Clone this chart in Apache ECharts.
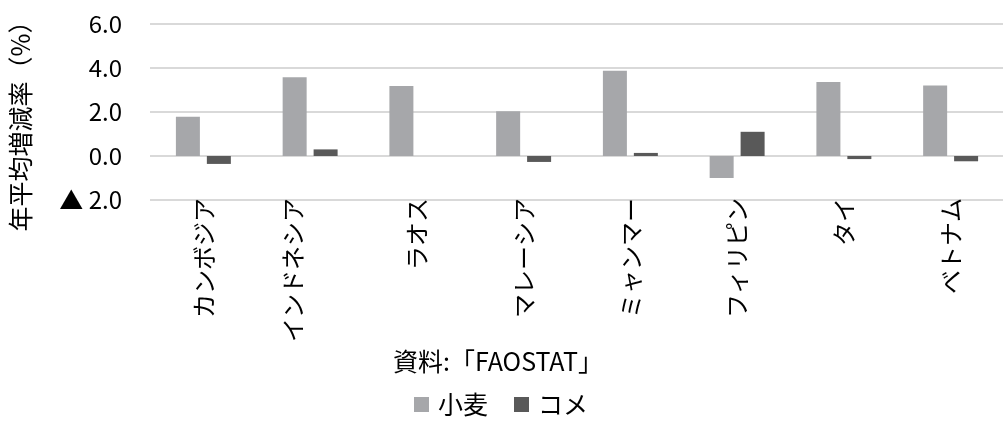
<!DOCTYPE html>
<html>
<head>
<meta charset="utf-8">
<script src="https://cdn.jsdelivr.net/npm/echarts@6/dist/echarts.min.js"></script>
<style>
  html, body { margin: 0; padding: 0; background: #fff; }
  #chart { width: 1003px; height: 422px; }
</style>
</head>
<body>
<div id="chart"></div>
<script>
const countries = ['カンボジア', 'インドネシア', 'ラオス', 'マレーシア', 'ミャンマー', 'フィリピン', 'タイ', 'ベトナム']
const wheat = [1.78, 3.58, 3.18, 2.03, 3.88, -1.0, 3.36, 3.21]
const rice = [-0.36, 0.3, 0, -0.27, 0.14, 1.1, -0.14, -0.24]
const yTicks = { '-2': '▲ 2.0', '0': '0.0', '2': '2.0', '4': '4.0', '6': '6.0' }

const font = '"Noto Sans CJK JP", "Noto Sans", sans-serif'

const chart = echarts.init(document.getElementById('chart'))
chart.setOption({
  animation: false,
  textStyle: { fontFamily: font },
  title: {
    text: '資料:「FAOSTAT」',
    left: 498,
    top: 349,
    textAlign: 'center',
    padding: 0,
    textStyle: { fontSize: 25, fontWeight: 'normal', color: '#000', fontFamily: font },
  },
  legend: {
    data: ['小麦', 'コメ'],
    left: 414,
    top: 392,
    padding: 0,
    itemWidth: 15,
    itemHeight: 15,
    itemGap: 26,
    icon: 'rect',
    textStyle: { fontSize: 25, color: '#000', fontFamily: font, padding: [0, 0, 0, 4] },
  },
  grid: {
    left: 150,
    top: 24,
    width: 854,
    height: 176,
    outerBoundsMode: 'none',
  },
  xAxis: {
    type: 'category',
    data: countries,
    axisLine: { show: false },
    axisTick: { show: false },
    axisLabel: {
      rotate: 90,
      margin: -2,
      fontSize: 24,
      lineHeight: 34,
      color: '#000',
      fontFamily: font,
      // インドネシア sits a bit left of its bars in the original
      formatter: v => v === 'インドネシア' ? v + '\n ' : v,
    },
  },
  yAxis: {
    type: 'value',
    min: -2,
    max: 6,
    interval: 2,
    name: '年平均増減率（%）',
    nameLocation: 'middle',
    nameRotate: 90,
    nameGap: 117,
    nameTextStyle: { fontSize: 25, color: '#000', fontFamily: font, padding: [0, 16, 0, 0] },
    axisLine: { show: false },
    axisTick: { show: false },
    axisLabel: {
      margin: 28,
      fontSize: 24,
      color: '#000',
      fontFamily: font,
      formatter: v => yTicks[String(v)],
    },
    splitLine: { lineStyle: { color: '#d9d9d9', width: 2 } },
  },
  series: [
    {
      name: '小麦',
      type: 'bar',
      data: wheat,
      barWidth: 24,
      barGap: '29%',
      itemStyle: { color: '#a6a7aa' },
    },
    {
      name: 'コメ',
      type: 'bar',
      data: rice,
      barWidth: 24,
      itemStyle: { color: '#595959' },
    },
  ],
})
</script>
</body>
</html>
